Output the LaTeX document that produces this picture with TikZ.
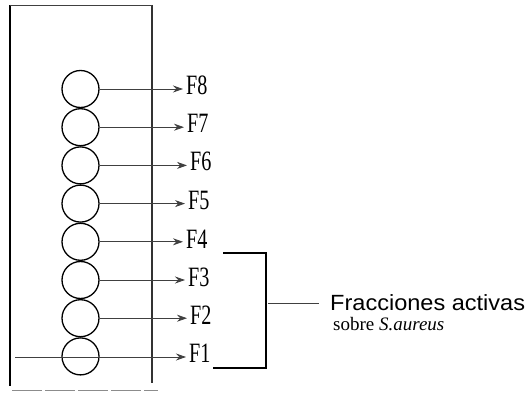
\documentclass[tikz,border=0pt]{standalone}
\usepackage{fontspec}
\setmainfont{Liberation Serif}
\newfontfamily\labsans{Liberation Sans}
\usetikzlibrary{arrows.meta}
\newcommand{\fraclabel}[1]{\scalebox{0.72}[1]{#1}}

\begin{document}
\begin{tikzpicture}[x=1pt, y=-1pt, node distance=38.2pt,
    frac/.style={draw, circle, minimum size=37pt, inner sep=0pt, line width=1.3pt},
    flab/.style={anchor=west, inner sep=0pt, font=\fontsize{28}{28}\selectfont},
    feed/.style={-{Stealth[length=10pt,width=7pt]}, line width=0.8pt, black!75, shorten >=3pt}]
    \useasboundingbox (0,0) rectangle (532,395);

    % Column
    \coordinate (ctl) at (10,5);
    \coordinate (ctr) at (152,5);
    \coordinate (cbr) at (152,383);
    \coordinate (cbl) at (10,386);
    \draw[line width=1.6pt] (ctl) -- (cbl);
    \draw[line width=1.4pt, black!80] (ctr) -- (cbr);
    \draw[line width=0.9pt, black!75] (ctl) -- (ctr);
    \draw[line width=0.8pt, black!45, dash pattern=on 30pt off 3pt] (12,390) -- (158,390);

    % Nodes
    \node (c8) [frac] at (80.5,89) {};
    \node (c7) [frac, below of=c8] {};
    \node (c6) [frac, below of=c7] {};
    \node (c5) [frac, below of=c6] {};
    \node (c4) [frac, below of=c5] {};
    \node (c3) [frac, below of=c4] {};
    \node (c2) [frac, below of=c3] {};
    \node (c1) [frac, below of=c2] {};

    \node (f8) [flab] at (186,85) {\fraclabel{F8}};
    \node (f7) [flab] at (187,123) {\fraclabel{F7}};
    \node (f6) [flab] at (190,161) {\fraclabel{F6}};
    \node (f5) [flab] at (188,200) {\fraclabel{F5}};
    \node (f4) [flab] at (186,239) {\fraclabel{F4}};
    \node (f3) [flab] at (188,277) {\fraclabel{F3}};
    \node (f2) [flab] at (190,315) {\fraclabel{F2}};
    \node (f1) [flab] at (189,353) {\fraclabel{F1}};

    \node (act) [anchor=base west, inner sep=0pt, font=\labsans\fontsize{22}{22}\selectfont] at (330,310) {\scalebox{1.07}[1]{Fracciones activas}};
    \node (sobre) [anchor=base west, inner sep=0pt, font=\fontsize{19}{19}\selectfont] at (333,330) {sobre \textit{S.aureus}};

    % Edges
    \foreach \i in {2,...,8}
        \draw[feed] (c\i.east) -- (c\i.east -| f\i.west);
    \coordinate (inlet) at (15,357);
    \draw[feed] (inlet) -- (inlet -| f1.west);

    % Bracket
    \coordinate (brtl) at (223,253);
    \coordinate (brtr) at (266,253);
    \coordinate (brbr) at (266,368);
    \coordinate (brbl) at (213,368);
    \draw[line width=1.3pt] (brtl) -- (brtr) -- (brbr) -- (brbl);
    \coordinate (brmid) at (268,303);
    \draw[line width=0.9pt, black!75] (brmid) -- ([xshift=-11pt]act.west |- brmid);
\end{tikzpicture}
\end{document}
